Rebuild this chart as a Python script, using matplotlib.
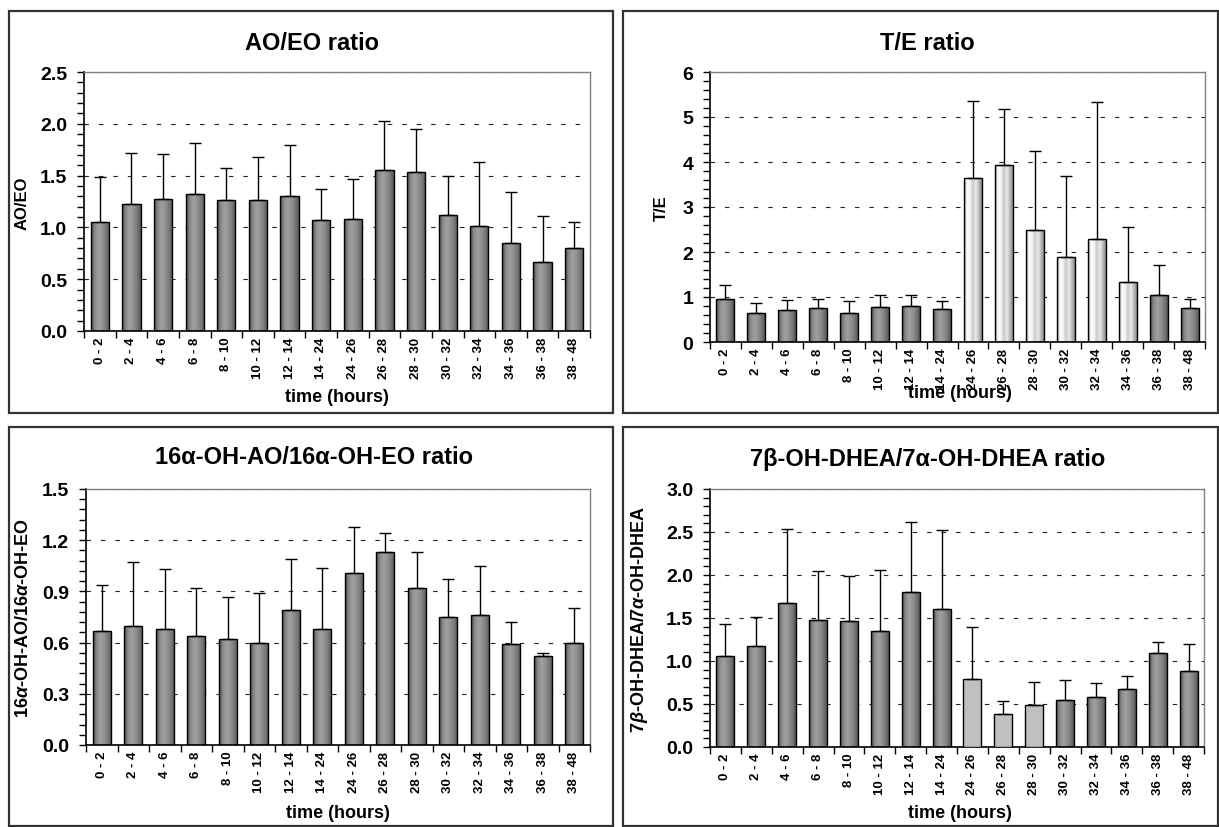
import numpy as np
import matplotlib
matplotlib.use("Agg")
import matplotlib.pyplot as plt
from matplotlib.colors import LinearSegmentedColormap
from matplotlib.patches import Rectangle
from matplotlib.ticker import AutoMinorLocator, MultipleLocator

plt.rcParams['font.family'] = ['Liberation Sans', 'DejaVu Sans']
plt.rcParams['font.weight'] = 'bold'
plt.rcParams['mathtext.fontset'] = 'custom'
plt.rcParams['mathtext.rm'] = 'Liberation Sans:bold'
plt.rcParams['mathtext.it'] = 'Liberation Sans:italic:bold'
plt.rcParams['mathtext.bf'] = 'Liberation Sans:bold'

periods = ['0 - 2', '2 - 4', '4 - 6', '6 - 8', '8 - 10', '10 - 12', '12 - 14', '14 - 24',
           '24 - 26', '26 - 28', '28 - 30', '30 - 32', '32 - 34', '34 - 36', '36 - 38', '38 - 48']

# means and top of the SD whisker for each ratio
ao_eo = [1.05, 1.23, 1.27, 1.32, 1.26, 1.26, 1.30, 1.07, 1.08, 1.55, 1.53, 1.12, 1.01, 0.85, 0.67, 0.80]
ao_eo_top = [1.49, 1.72, 1.71, 1.81, 1.57, 1.68, 1.80, 1.37, 1.47, 2.03, 1.95, 1.50, 1.63, 1.34, 1.11, 1.05]

t_e = [0.96, 0.65, 0.71, 0.76, 0.65, 0.78, 0.81, 0.73, 3.65, 3.93, 2.49, 1.89, 2.29, 1.34, 1.04, 0.76]
t_e_top = [1.26, 0.87, 0.93, 0.96, 0.91, 1.04, 1.04, 0.91, 5.36, 5.18, 4.24, 3.68, 5.33, 2.55, 1.71, 0.95]
t_e_light = [8, 9, 10, 11, 12, 13]

oh16 = [0.67, 0.70, 0.68, 0.64, 0.62, 0.60, 0.79, 0.68, 1.01, 1.13, 0.92, 0.75, 0.76, 0.59, 0.52, 0.60]
oh16_top = [0.94, 1.07, 1.03, 0.92, 0.87, 0.89, 1.09, 1.04, 1.28, 1.24, 1.13, 0.97, 1.05, 0.72, 0.54, 0.80]

dhea7 = [1.06, 1.18, 1.67, 1.48, 1.46, 1.35, 1.80, 1.60, 0.79, 0.38, 0.49, 0.55, 0.58, 0.67, 1.09, 0.88]
dhea7_top = [1.43, 1.51, 2.54, 2.05, 1.99, 2.06, 2.62, 2.52, 1.39, 0.54, 0.76, 0.78, 0.74, 0.82, 1.22, 1.20]
dhea7_flat = [8, 9, 10]

W, H = 1219, 828
fig = plt.figure(figsize=(W / 100, H / 100), dpi=100)

dark = LinearSegmentedColormap.from_list('dark', ['#4a4a4a', '#8a8a8a', '#a0a0a0', '#929292', '#7a7a7a', '#555555'])
light = LinearSegmentedColormap.from_list('light', ['#9a9a9a', '#ffffff', '#f4f4f4', '#c8c8c8', '#ececec', '#bcbcbc', '#8c8c8c'])
grad = np.linspace(0, 1, 64).reshape(1, -1)


def px_axes(x0, y0, x1, y1):
    return fig.add_axes([x0 / W, 1 - y1 / H, (x1 - x0) / W, (y1 - y0) / H])


def draw_panel(ax, vals, tops, ymax, major, light_idx=(), flat_idx=()):
    x = np.arange(len(vals))
    bw = 0.58
    bars = ax.bar(x, vals, width=bw, facecolor='none', edgecolor='black', linewidth=1.0, zorder=3)
    for i, b in enumerate(bars):
        if i in flat_idx:
            b.set_facecolor('#c0c0c0')
            continue
        cmap = light if i in light_idx else dark
        im = ax.imshow(grad, extent=[x[i] - bw / 2, x[i] + bw / 2, 0, vals[i]],
                       aspect='auto', cmap=cmap, zorder=2, interpolation='bilinear')
        im.set_clip_path(b)
    err = np.array(tops) - np.array(vals)
    ax.errorbar(x, vals, yerr=[np.zeros(len(vals)), err], fmt='none', ecolor='black',
                elinewidth=1.0, capsize=4, capthick=1.0, zorder=4)

    ax.set_xlim(-0.5, len(vals) - 0.5)
    ax.set_ylim(0, ymax)
    ax.yaxis.set_major_locator(MultipleLocator(major))
    ax.yaxis.set_minor_locator(AutoMinorLocator(5))
    ax.yaxis.grid(True, which='major', linestyle=(0, (4, 9)), color='#222222', linewidth=0.8)
    ax.set_axisbelow(True)

    ax.set_xticks(np.arange(len(vals) + 1) - 0.5)
    ax.set_xticklabels([])
    ax.set_xticks(x, minor=True)
    ax.set_xticklabels(periods, minor=True, rotation=90, fontsize=9.5, fontweight='bold')
    ax.tick_params(axis='x', which='major', direction='out', length=5, width=1)
    ax.tick_params(axis='x', which='minor', length=0, pad=4)
    ax.tick_params(axis='y', which='both', direction='out', length=5, width=1, labelsize=14, pad=7)
    for lab in ax.get_yticklabels():
        lab.set_fontweight('bold')
    for s in ['left', 'bottom']:
        ax.spines[s].set_color('black')
        ax.spines[s].set_linewidth(1.2)
    for s in ['top', 'right']:
        ax.spines[s].set_color('#808080')
        ax.spines[s].set_linewidth(1.0)


def frame(x0, y0, x1, y1):
    fig.patches.append(Rectangle((x0 / W, 1 - y1 / H), (x1 - x0) / W, (y1 - y0) / H,
                                 transform=fig.transFigure, fill=False,
                                 edgecolor='#333333', linewidth=1.6))


def label(x, y, s, size, rot=0):
    fig.text(x / W, 1 - y / H, s, ha='center', va='center', fontsize=size,
             fontweight='bold', rotation=rot)


# AO/EO
frame(9, 12, 613, 414)
ax1 = px_axes(84, 73, 590, 332)
draw_panel(ax1, ao_eo, ao_eo_top, 2.5, 0.5)
ax1.yaxis.set_major_formatter('{x:.1f}')
label(312, 43, 'AO/EO ratio', 17)
label(22, 203, 'AO/EO', 12, 90)
label(337, 398, 'time (hours)', 13)

# T/E
frame(623, 12, 1218, 414)
ax2 = px_axes(710, 73, 1205, 343)
draw_panel(ax2, t_e, t_e_top, 6, 1, light_idx=t_e_light)
label(927, 43, 'T/E ratio', 17)
label(661, 208, 'T/E', 12, 90)
label(960, 394, 'time (hours)', 13)

# 16a-OH-AO / 16a-OH-EO
frame(9, 428, 613, 827)
ax3 = px_axes(86, 490, 590, 746)
draw_panel(ax3, oh16, oh16_top, 1.5, 0.3)
ax3.yaxis.set_major_formatter('{x:.1f}')
label(314, 458, '16α-OH-AO/16α-OH-EO ratio', 17)
label(24, 618, r'16$\alpha$-OH-AO/16$\alpha$-OH-EO', 13, 90)
label(338, 814, 'time (hours)', 13)

# 7b-OH-DHEA / 7a-OH-DHEA
frame(623, 428, 1218, 827)
ax4 = px_axes(710, 490, 1204, 748)
draw_panel(ax4, dhea7, dhea7_top, 3.0, 0.5, flat_idx=dhea7_flat)
ax4.yaxis.set_major_formatter('{x:.1f}')
label(928, 460, '7β-OH-DHEA/7α-OH-DHEA ratio', 17)
label(640, 619, r'7$\beta$-OH-DHEA/7$\alpha$-OH-DHEA', 13, 90)
label(960, 814, 'time (hours)', 13)

fig.savefig('out.png', dpi=100)
